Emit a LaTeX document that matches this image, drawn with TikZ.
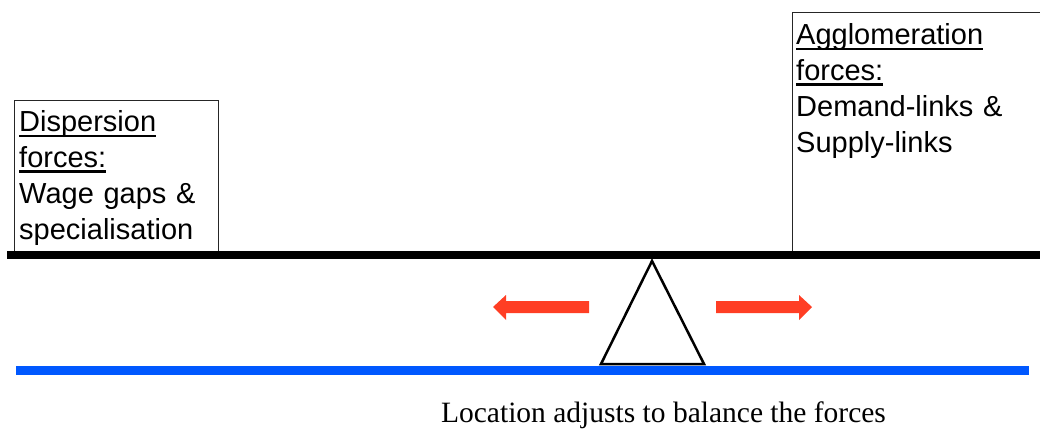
\documentclass[tikz,border=0pt]{standalone}
\usepackage{fontspec}
\setmainfont{Liberation Serif}
\newfontfamily\helv{Liberation Sans}
\newsavebox\myulbox
\newcommand\myul[1]{\leavevmode\sbox\myulbox{#1}\rlap{\rule[-5pt]{\wd\myulbox}{2.4pt}}\usebox\myulbox}
\definecolor{barblue}{RGB}{0,88,255}
\definecolor{arrred}{RGB}{255,62,36}
\tikzset{
  forcebox/.style={draw=black!85, line width=0.9pt, fill=white},
  forcetext/.style={inner sep=0pt, anchor=base west, text width=240pt, align=left,
    font=\helv\fontsize{29}{35.7}\selectfont},
  captext/.style={inner sep=0pt, anchor=base, font=\fontsize{29.5}{34}\selectfont},
  pivot/.style={draw=black, line width=2.5pt, line join=miter, fill=white},
  push/.style={fill=arrred, draw=none}
}
\begin{document}
\begin{tikzpicture}[x=1pt,y=-1pt]
\useasboundingbox (0,0) rectangle (1040,430);
\begin{scope}
\clip (0,0) rectangle (1040,430);
% boxes
\draw[forcebox] (14,100) rectangle (218,252);
\draw[forcebox] (792,12) rectangle (1060,252);
% beam
\fill[black] (7,251) rectangle (1060,259);
\end{scope}
% texts
\node[forcetext] (disp) at (19,132) {\myul{Dispersion}\\\myul{forces:}\\Wage gaps \&\\specialisation};
\node[forcetext] (aggl) at (796,45) {\myul{Agglomeration}\\\myul{forces:}\\Demand-links \&\\Supply-links};
% ground
\fill[barblue] (16,366) rectangle (1029,375);
% pivot
\coordinate (apex) at (652,261);
\coordinate (bl) at (601,364);
\coordinate (br) at (704,364);
\draw[pivot] (apex) -- (bl) -- (br) -- cycle;
% arrows
\fill[push] (589,301) -- (506,301) -- (506,295) -- (493,307) -- (506,320) -- (506,313) -- (589,313) -- cycle;
\fill[push] (716,301) -- (799,301) -- (799,295) -- (812,307) -- (799,320) -- (799,313) -- (716,313) -- cycle;
% caption
\node[captext] (cap) at (663.5,422.5) {Location adjusts to balance the forces};
\end{tikzpicture}
\end{document}
